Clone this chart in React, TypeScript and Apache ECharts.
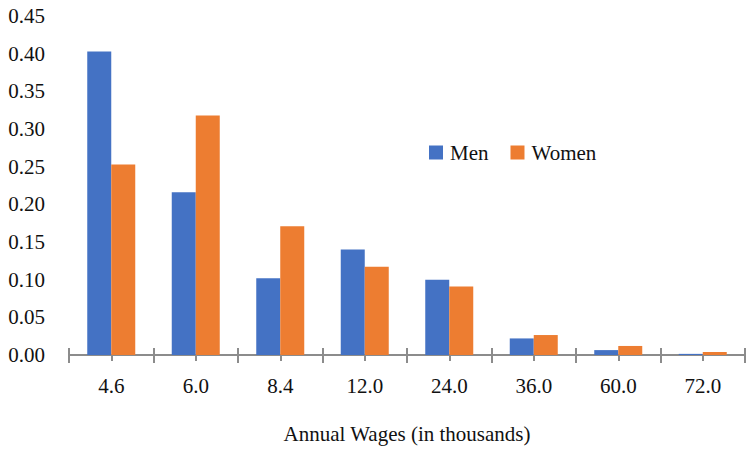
import React, { useEffect, useRef } from "react";
import * as echarts from "echarts";

// Annual wage brackets (in thousands) and share of workers in each
const categories = ["4.6", "6.0", "8.4", "12.0", "24.0", "36.0", "60.0", "72.0"];
const menShares = [0.403, 0.216, 0.102, 0.14, 0.1, 0.022, 0.0065, 0.0015];
const womenShares = [0.253, 0.318, 0.171, 0.117, 0.091, 0.0265, 0.012, 0.004];

const FONT = '"Liberation Serif", "DejaVu Serif", "Times New Roman", serif';
const AXIS_GRAY = "#8c8c8c";

export default function App() {
  const ref = useRef<HTMLDivElement>(null);

  useEffect(() => {
    if (!ref.current) return;
    const chart = echarts.init(ref.current, null, { renderer: "svg" });
    chart.setOption({
      animation: false,
      backgroundColor: "#ffffff",
      textStyle: { fontFamily: FONT },
      grid: { left: 69, right: 2, top: 16, bottom: 82, containLabel: false },
      legend: {
        data: ["Men", "Women"],
        left: 424,
        top: 137,
        icon: "rect",
        itemWidth: 14,
        itemHeight: 14,
        itemGap: 22,
        textStyle: { fontFamily: FONT, fontSize: 21, color: "#111", padding: [0, 0, 0, 2] },
      },
      xAxis: [
        {
          type: "category",
          data: categories,
          position: "bottom",
          axisLine: { show: true, lineStyle: { color: AXIS_GRAY, width: 2 } },
          axisTick: { show: true, alignWithLabel: false, length: 8, lineStyle: { color: AXIS_GRAY, width: 2 } },
          axisLabel: { fontFamily: FONT, fontSize: 21, color: "#111", margin: 20 },
          name: "Annual Wages (in thousands)",
          nameLocation: "middle",
          nameGap: 68,
          nameTextStyle: { fontFamily: FONT, fontSize: 21, color: "#111" },
          splitLine: { show: false },
        },
        {
          // upper half of the crossing boundary ticks
          type: "category",
          data: categories,
          position: "bottom",
          axisLine: { show: false },
          axisTick: { show: true, inside: true, alignWithLabel: false, length: 7, lineStyle: { color: AXIS_GRAY, width: 2 } },
          axisLabel: { show: false },
          splitLine: { show: false },
        },
        {
          // short ticks under each category centre
          type: "category",
          data: categories,
          position: "bottom",
          axisLine: { show: false },
          axisTick: { show: true, alignWithLabel: true, length: 6, lineStyle: { color: AXIS_GRAY, width: 2 } },
          axisLabel: { show: false },
          splitLine: { show: false },
        },
      ],
      yAxis: {
        type: "value",
        min: 0,
        max: 0.45,
        interval: 0.05,
        axisLine: { show: false },
        axisTick: { show: false },
        splitLine: { show: false },
        axisLabel: {
          fontFamily: FONT,
          fontSize: 21,
          color: "#111",
          margin: 24,
          formatter: (v: number) => v.toFixed(2),
        },
      },
      series: [
        {
          name: "Men",
          type: "bar",
          xAxisIndex: 0,
          data: menShares,
          barWidth: 24,
          barGap: "0%",
          itemStyle: { color: "#4472C4" },
        },
        {
          name: "Women",
          type: "bar",
          xAxisIndex: 0,
          data: womenShares,
          barWidth: 24,
          barGap: "0%",
          itemStyle: { color: "#ED7D31" },
        },
      ],
    });
    return () => chart.dispose();
  }, []);

  return (
    <div
      ref={ref}
      style={{ position: "fixed", left: 0, top: 0, width: 747, height: 449, background: "#fff" }}
    />
  );
}
